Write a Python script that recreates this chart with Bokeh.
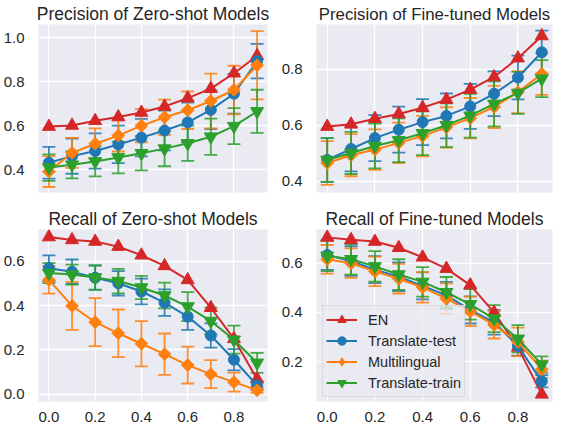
import math
from bokeh.plotting import figure
from bokeh.layouts import column, row
from bokeh.models import (ColumnDataSource, Whisker, TeeHead, Range1d, FixedTicker,
                          NumeralTickFormatter, Legend, LegendItem)
from bokeh.embed import file_html
from bokeh.resources import INLINE

thresholds = [0.0, 0.1, 0.2, 0.3, 0.4, 0.5, 0.6, 0.7, 0.8, 0.9]
series_names = ["EN", "Translate-test", "Multilingual", "Translate-train"]
x_ticks = [0.0, 0.2, 0.4, 0.6, 0.8]
y_ticks = [0.0, 0.2, 0.4, 0.6, 0.8, 1.0]

# Precision of zero-shot models
en_p_zs = [0.596, 0.601, 0.622, 0.639, 0.660, 0.687, 0.725, 0.768, 0.838, 0.917]
tt_p_zs = [0.432, 0.462, 0.485, 0.515, 0.546, 0.578, 0.615, 0.672, 0.745, 0.893]
tt_p_zs_err = [0.072, 0.080, 0.080, 0.085, 0.085, 0.090, 0.090, 0.088, 0.090, 0.078]
ml_p_zs = [0.392, 0.477, 0.518, 0.555, 0.600, 0.638, 0.670, 0.712, 0.762, 0.874]
ml_p_zs_err = [0.070, 0.068, 0.070, 0.072, 0.075, 0.080, 0.085, 0.124, 0.110, 0.155]
tr_p_zs = [0.410, 0.423, 0.438, 0.456, 0.475, 0.496, 0.520, 0.550, 0.598, 0.665]
tr_p_zs_err = [0.060, 0.062, 0.068, 0.072, 0.078, 0.080, 0.080, 0.082, 0.082, 0.098]

# Precision of fine-tuned models
en_p_ft = [0.595, 0.603, 0.623, 0.640, 0.662, 0.691, 0.727, 0.772, 0.839, 0.918]
tt_p_ft = [0.476, 0.515, 0.554, 0.584, 0.611, 0.633, 0.667, 0.712, 0.770, 0.860]
tt_p_ft_err = [0.078, 0.080, 0.082, 0.082, 0.082, 0.080, 0.080, 0.080, 0.078, 0.077]
ml_p_ft = [0.465, 0.493, 0.513, 0.537, 0.561, 0.592, 0.625, 0.665, 0.718, 0.783]
ml_p_ft_err = [0.078, 0.075, 0.072, 0.072, 0.072, 0.072, 0.072, 0.075, 0.075, 0.075]
tr_p_ft = [0.476, 0.501, 0.526, 0.546, 0.571, 0.600, 0.634, 0.676, 0.715, 0.766]
tr_p_ft_err = [0.078, 0.075, 0.080, 0.078, 0.078, 0.078, 0.078, 0.080, 0.075, 0.066]

# Recall of zero-shot models
en_r_zs = [0.708, 0.695, 0.688, 0.665, 0.626, 0.578, 0.515, 0.390, 0.250, 0.069]
tt_r_zs = [0.568, 0.552, 0.525, 0.500, 0.463, 0.413, 0.350, 0.265, 0.156, 0.040]
tt_r_zs_err = [0.058, 0.055, 0.055, 0.055, 0.058, 0.060, 0.060, 0.055, 0.048, 0.018]
ml_r_zs = [0.515, 0.398, 0.325, 0.275, 0.228, 0.181, 0.132, 0.091, 0.055, 0.019]
ml_r_zs_err = [0.062, 0.108, 0.108, 0.107, 0.102, 0.093, 0.083, 0.063, 0.043, 0.012]
tr_r_zs = [0.546, 0.539, 0.526, 0.510, 0.481, 0.445, 0.395, 0.330, 0.246, 0.142]
tr_r_zs_err = [0.045, 0.045, 0.055, 0.055, 0.052, 0.058, 0.065, 0.060, 0.063, 0.045]

# Recall of fine-tuned models
en_r_ft = [0.705, 0.695, 0.688, 0.663, 0.624, 0.578, 0.511, 0.400, 0.258, 0.067]
tt_r_ft = [0.633, 0.609, 0.574, 0.545, 0.508, 0.469, 0.410, 0.360, 0.264, 0.120]
tt_r_ft_err = [0.060, 0.060, 0.055, 0.058, 0.055, 0.055, 0.055, 0.050, 0.040, 0.025]
ml_r_ft = [0.616, 0.600, 0.567, 0.537, 0.502, 0.456, 0.404, 0.349, 0.280, 0.169]
ml_r_ft_err = [0.058, 0.060, 0.060, 0.060, 0.062, 0.062, 0.060, 0.055, 0.058, 0.035]
tr_r_ft = [0.630, 0.616, 0.587, 0.554, 0.524, 0.482, 0.433, 0.375, 0.293, 0.188]
tr_r_ft_err = [0.062, 0.062, 0.062, 0.062, 0.060, 0.062, 0.062, 0.055, 0.055, 0.033]

RED, BLUE, ORANGE, GREEN = "#d62728", "#1f77b4", "#ff7f0e", "#2ca02c"
BG = "#EAEAF2"
TXT = "#262626"
FONT = "Liberation Sans"


def make_panel(title, en, tt, tt_err, ml, ml_err, tr, tr_err, yr, width, height,
               borders, show_x, legend=False, title_size="17.5px"):
    left, right, top, bottom = borders
    p = figure(width=width, height=height, output_backend="svg", toolbar_location=None,
               x_range=Range1d(-0.045, 0.945), y_range=Range1d(*yr),
               min_border_left=left, min_border_right=right,
               min_border_top=top, min_border_bottom=bottom,
               background_fill_color=BG, border_fill_color="white")
    p.outline_line_color = None
    p.title.text = title
    p.title.text_font = FONT
    p.title.text_font_size = title_size
    p.title.text_font_style = "normal"
    p.title.text_color = TXT
    p.title.align = "center"
    p.title.standoff = 2

    for ax in (p.xaxis[0], p.yaxis[0]):
        ax.axis_line_color = None
        ax.major_tick_line_color = None
        ax.minor_tick_line_color = None
        ax.major_label_text_font = FONT
        ax.major_label_text_font_size = "15px"
        ax.major_label_text_color = TXT
        ax.major_label_standoff = 8
        ax.formatter = NumeralTickFormatter(format="0.0")
    p.xaxis.ticker = FixedTicker(ticks=x_ticks)
    p.yaxis.ticker = FixedTicker(ticks=y_ticks)
    p.xgrid.ticker = FixedTicker(ticks=x_ticks)
    p.ygrid.ticker = FixedTicker(ticks=y_ticks)
    p.xaxis.major_label_standoff = 4
    if not show_x:
        p.xaxis.visible = False
    for g in (p.xgrid[0], p.ygrid[0]):
        g.grid_line_color = "white"
        g.grid_line_width = 1.3
        g.minor_grid_line_color = None

    def err_bars(vals, errs, color):
        src = ColumnDataSource(dict(x=thresholds,
                                    lower=[v - e for v, e in zip(vals, errs)],
                                    upper=[v + e for v, e in zip(vals, errs)]))
        w = Whisker(source=src, base="x", lower="lower", upper="upper",
                    dimension="height", line_color=color, line_width=1.8, line_alpha=0.85,
                    upper_head=TeeHead(size=13, line_color=color, line_width=1.8, line_alpha=0.85),
                    lower_head=TeeHead(size=13, line_color=color, line_width=1.8, line_alpha=0.85))
        p.add_layout(w)

    err_bars(tt, tt_err, BLUE)
    err_bars(ml, ml_err, ORANGE)
    err_bars(tr, tr_err, GREEN)

    items = []
    l = p.line(thresholds, en, line_color=RED, line_width=2)
    m = p.scatter(thresholds, en, marker="triangle", size=13, color=RED)
    items.append(("EN", [l, m]))

    l = p.line(thresholds, tt, line_color=BLUE, line_width=2)
    m = p.scatter(thresholds, tt, marker="circle", size=11, color=BLUE)
    e = p.scatter([], [], marker="dash", angle=math.pi / 2, size=12, line_color=BLUE, line_width=2)
    items.append(("Translate-test", [l, e, m]))

    l = p.line(thresholds, ml, line_color=ORANGE, line_width=2)
    m = p.scatter(thresholds, ml, marker="square", angle=math.pi / 4, size=9, color=ORANGE)
    # same points, drawn inside the rotated squares; used for the legend swatch
    d = p.scatter(thresholds, ml, marker="diamond", size=11, color=ORANGE)
    e = p.scatter([], [], marker="dash", angle=math.pi / 2, size=12, line_color=ORANGE, line_width=2)
    items.append(("Multilingual", [l, e, d]))

    l = p.line(thresholds, tr, line_color=GREEN, line_width=2)
    m = p.scatter(thresholds, tr, marker="inverted_triangle", size=13, color=GREEN)
    e = p.scatter([], [], marker="dash", angle=math.pi / 2, size=12, line_color=GREEN, line_width=2)
    items.append(("Translate-train", [l, e, m]))

    if legend:
        leg = Legend(items=[LegendItem(label=n, renderers=r) for n, r in items],
                     location=(6, 4), padding=3, spacing=0,
                     glyph_width=31, glyph_height=21, label_height=21, label_standoff=11,
                     label_text_font=FONT, label_text_font_size="14.5px", label_text_color=TXT,
                     background_fill_color=BG, background_fill_alpha=0.8,
                     border_line_color="#cccccc", border_line_width=1, margin=0)
        p.add_layout(leg, "center")
    return p


p1 = make_panel("Precision of Zero-shot Models", en_p_zs, tt_p_zs, tt_p_zs_err, ml_p_zs,
                ml_p_zs_err, tr_p_zs, tr_p_zs_err, (0.297, 1.059), 271, 205,
                (31, 4, 19, 13), False)
p2 = make_panel("Precision of Fine-tuned Models", en_p_ft, tt_p_ft, tt_p_ft_err, ml_p_ft,
                ml_p_ft_err, tr_p_ft, tr_p_ft_err, (0.360, 0.959), 282, 205,
                (45, 1, 19, 13), False, title_size="16.8px")
p3 = make_panel("Recall of Zero-shot Models", en_r_zs, tt_r_zs, tt_r_zs_err, ml_r_zs,
                ml_r_zs_err, tr_r_zs, tr_r_zs_err, (-0.032, 0.742), 271, 219,
                (31, 4, 22, 22), True)
p4 = make_panel("Recall of Fine-tuned Models", en_r_ft, tt_r_ft, tt_r_ft_err, ml_r_ft,
                ml_r_ft_err, tr_r_ft, tr_r_ft_err, (0.038, 0.737), 282, 219,
                (45, 1, 22, 22), True, legend=True)

layout = column(row(p1, p2), row(p3, p4))
open("out.html", "w").write(file_html(layout, INLINE))
